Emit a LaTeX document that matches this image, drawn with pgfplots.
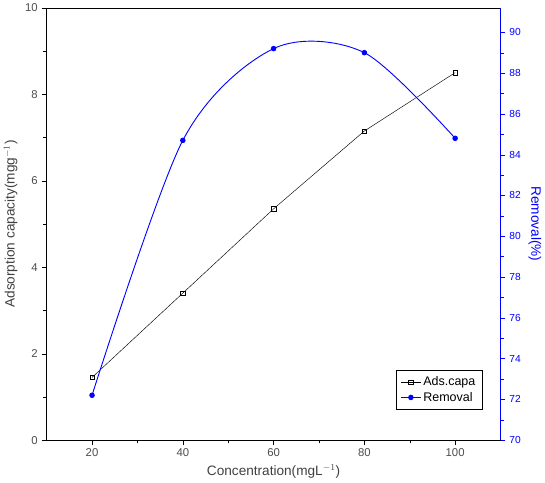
\documentclass[border=0pt]{standalone}
\usepackage{pgfplots}
\pgfplotsset{compat=1.18}
\usepackage{fontspec}
\setmainfont{Liberation Sans}
\begin{document}
\begin{tikzpicture}
\begin{axis}[scale only axis, width=400pt, height=381pt,
  xmin=10, xmax=110, ymin=0, ymax=10,
  xtick={20,40,60,80,100}, ytick={0,2,4,6,8,10},
  minor x tick num=1, minor y tick num=1,
  axis y line*=left, axis x line*=bottom,
  tick align=outside, tick style={black},
  ticklabel style={font=\fontsize{10}{11}\selectfont, text=black!70},
  /pgf/number format/assume math mode=true,
  xlabel={Concentration(mgL$^{-1}$)}, ylabel={Adsorption capacity(mgg$^{-1}$)},
  label style={font=\fontsize{12}{13}\selectfont, text=black!75},
  legend style={at={(0.96,0.07)}, anchor=south east, font=\fontsize{11}{14}\selectfont, draw=black, cells={anchor=west}, inner sep=4pt},
  legend cell align=left]
\addplot[black, mark=square, mark size=2pt] coordinates {(20,1.45)(40,3.4)(60,5.35)(80,7.15)(100,8.5)};
\addlegendentry{Ads.capa}
\addlegendimage{blue, thick, mark=*, mark size=2pt}
\addlegendentry{Removal}
\end{axis}
\begin{axis}[scale only axis, width=400pt, height=381pt,
  xmin=10, xmax=110, ymin=70, ymax=91.2,
  axis y line*=right, axis x line*=top, xtick=\empty, xticklabels={},
  ytick={70,72,...,90}, minor y tick num=1,
  tick align=outside, y axis line style={blue}, ytick style={blue}, x axis line style={black},
  yticklabel style={font=\fontsize{9}{10}\selectfont, text=blue},
  /pgf/number format/assume math mode=true,
  ylabel={Removal(\%)}, ylabel style={font=\fontsize{12}{13}\selectfont, text=blue, rotate=180}]
\addplot[blue, thick, smooth, mark=*, mark size=2pt, mark options={fill=blue}] coordinates {(20,72.2)(40,84.7)(60,89.2)(80,89.0)(100,84.8)};
\end{axis}
\end{tikzpicture}
\end{document}
